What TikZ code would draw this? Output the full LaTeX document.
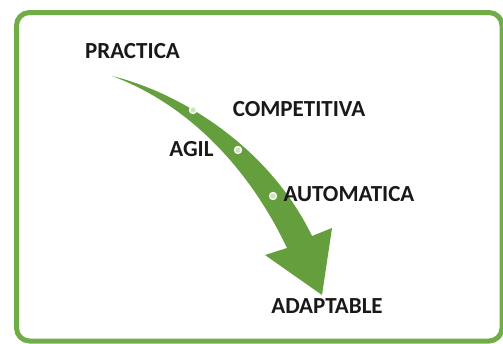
\documentclass[tikz,border=0pt]{standalone}
\usepackage{fontspec}
\setmainfont{Carlito}
\usetikzlibrary{calc}
\definecolor{marco}{RGB}{112,173,71}
\definecolor{flecha}{RGB}{101,158,60}

\begin{document}
\begin{tikzpicture}[x=1pt, y=-1pt, etiq/.style={font=\bfseries\fontsize{23}{23}\selectfont, text=black!90, inner sep=0}]
\useasboundingbox (0,0) rectangle (503,343);
\clip (0,0) rectangle (503,343);
\draw[marco, line width=5, rounded corners=13] (16.5,12.5) rectangle (502,341);
\fill[flecha] (112,76) .. controls (178,92) and (268,145) .. (312,236) -- (332,228) -- (322,295) -- (265,255) -- (287,248) .. controls (250,170) and (190,105) .. (112,76) -- cycle;
\foreach \x/\y [count=\i] in {193/110, 238/150, 273/196} {
 \node[circle, fill=marco!35, draw=white, line width=1.3, inner sep=0, minimum size=7] (p\i) at (\x,\y) {};
}
\node[etiq] (practica) at (132.5,51) {PRACTICA};
\node[etiq] (competitiva) at (299,109) {COMPETITIVA};
\node[etiq] (agil) at (191.5,149) {AGIL};
\node[etiq] (automatica) at (349,194) {AUTOMATICA};
\node[etiq] (adaptable) at (327,306) {ADAPTABLE};
\end{tikzpicture}
\end{document}
